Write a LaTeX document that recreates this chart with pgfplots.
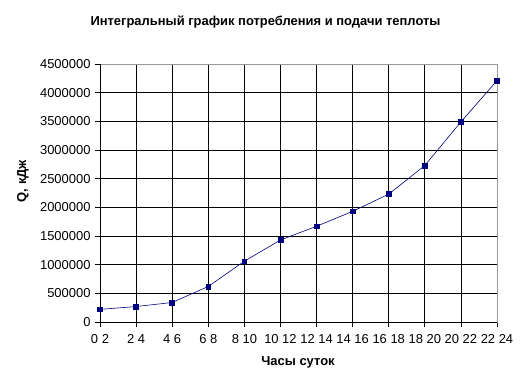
\documentclass[border=0pt]{standalone}
\usepackage{fontspec}
\setmainfont{Liberation Sans}
\usepackage{pgfplots}
\pgfplotsset{compat=1.18}
\definecolor{navyx}{RGB}{0,0,128}
\begin{document}
\begin{tikzpicture}
\useasboundingbox (-100bp,-70bp) rectangle (431bp,322bp);
\begin{axis}[
  at={(0,0)}, anchor=origin,
  scale only axis,
  width=397bp, height=258bp,
  xmin=0, xmax=11, ymin=0, ymax=4500000,
  xtick={0,1,2,3,4,5,6,7,8,9,10,11},
  xticklabels={0 2,2 4,4 6,6 8,8 10,10 12,12 14,14 16,16 18,18 20,20 22,22 24},
  ytick={0,500000,1000000,1500000,2000000,2500000,3000000,3500000,4000000,4500000},
  scaled y ticks=false,
  yticklabel style={/pgf/number format/fixed,/pgf/number format/1000 sep={},/pgf/number format/assume math mode=true},
  /pgf/number format/assume math mode=true,
  tick label style={font=\fontsize{13}{15}\selectfont, black},
  tick align=outside, xtick pos=left, ytick pos=left,
  major tick length=5bp,
  tick style={black, line width=0.8pt},
  grid=major,
  major grid style={black, line width=0.8pt},
  axis line style={gray!80, line width=0.8pt},
  xticklabel style={yshift=-4bp},
  yticklabel style={xshift=-1bp},
  clip=false,
]
\addplot[navyx, line width=0.6pt, mark=square*, mark size=2.4pt, mark options={fill=navyx, draw=navyx}]
coordinates {
(0,220000) (1,270000) (2,340000) (3,620000) (4,1060000) (5,1430000)
(6,1670000) (7,1930000) (8,2230000) (9,2730000) (10,3490000) (11,4210000)
};
\draw[black, line width=0.8pt] (rel axis cs:0,0) -- (rel axis cs:0,1);
\draw[black, line width=0.8pt] (rel axis cs:0,0) -- (rel axis cs:1,0);
\end{axis}
\node[font=\bfseries\fontsize{13}{15}\selectfont] at (165.5bp,300bp) {Интегральный график потребления и подачи теплоты};
\node[font=\bfseries\fontsize{13}{15}\selectfont, rotate=90] at (-77bp,141bp) {Q, кДж};
\node[font=\bfseries\fontsize{13}{15}\selectfont] at (198bp,-40bp) {Часы суток};
\end{tikzpicture}
\end{document}
